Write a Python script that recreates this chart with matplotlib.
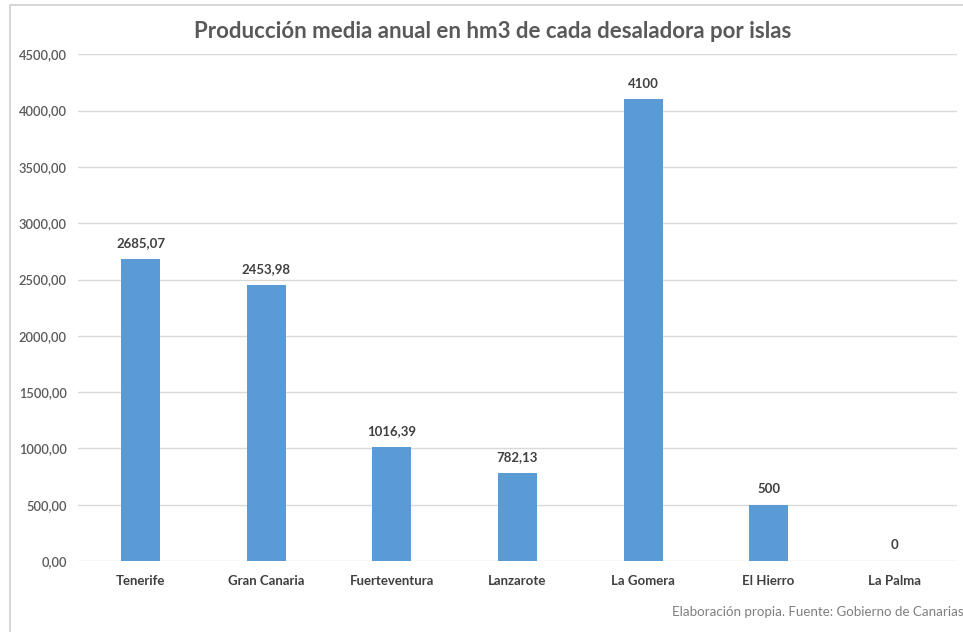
import matplotlib.pyplot as plt
from matplotlib.patches import Rectangle
from matplotlib.ticker import FuncFormatter

islands = ["Tenerife", "Gran Canaria", "Fuerteventura", "Lanzarote",
           "La Gomera", "El Hierro", "La Palma"]
production = [2685.07, 2453.98, 1016.39, 782.13, 4100, 500, 0]
value_labels = ["2685,07", "2453,98", "1016,39", "782,13", "4100", "500", "0"]
y_ticks = [0, 500, 1000, 1500, 2000, 2500, 3000, 3500, 4000, 4500]

plt.rcParams["font.family"] = ["Lato", "DejaVu Sans"]

fig = plt.figure(figsize=(9.63, 6.32), dpi=100)
ax = fig.add_axes([0.081, 0.1123, 0.9128, 0.8018])

# chart frame (only top and left edges are visible)
fig.patches.append(Rectangle((10 / 963, -0.01), 1.0, 1 - 5 / 632 + 0.01,
                             transform=fig.transFigure, fill=False,
                             edgecolor="#d0d0d0", linewidth=1.2))

x = range(len(islands))
ax.bar(x, production, width=0.31, color="#5b9bd5", zorder=3)

for xi, val, lab in zip(x, production, value_labels):
    ax.annotate(lab, (xi, val), xytext=(0, 7), textcoords="offset points",
                ha="center", va="bottom", fontsize=9.5, fontweight="bold",
                color="#404040")

ax.set_xlim(-0.5, len(islands) - 0.5)
ax.set_ylim(0, 4500)
ax.set_yticks(y_ticks)
ax.yaxis.set_major_formatter(FuncFormatter(lambda v, p: f"{v:.2f}".replace(".", ",")))
ax.set_xticks(list(x))
ax.set_xticklabels(islands)

ax.grid(axis="y", color="#d9d9d9", linewidth=1, zorder=0)
for s in ax.spines.values():
    s.set_visible(False)
ax.tick_params(axis="both", length=0)
ax.tick_params(axis="y", pad=8, labelsize=9.3, labelcolor="#595959")
ax.tick_params(axis="x", pad=10, labelsize=9.5, labelcolor="#404040")
for t in ax.get_xticklabels():
    t.set_fontweight("bold")
for t in ax.get_yticklabels():
    t.set_fontweight("semibold")

fig.text(493 / 963, 1 - 31 / 632, "Producción media anual en hm3 de cada desaladora por islas",
         ha="center", va="center", fontsize=16, fontweight="bold", color="#595959")
fig.text(672 / 963, 1 - 612 / 632, "Elaboración propia. Fuente: Gobierno de Canarias",
         ha="left", va="center", fontsize=9.6, color="#7f7f7f")

fig.savefig("out.png", dpi=100)
